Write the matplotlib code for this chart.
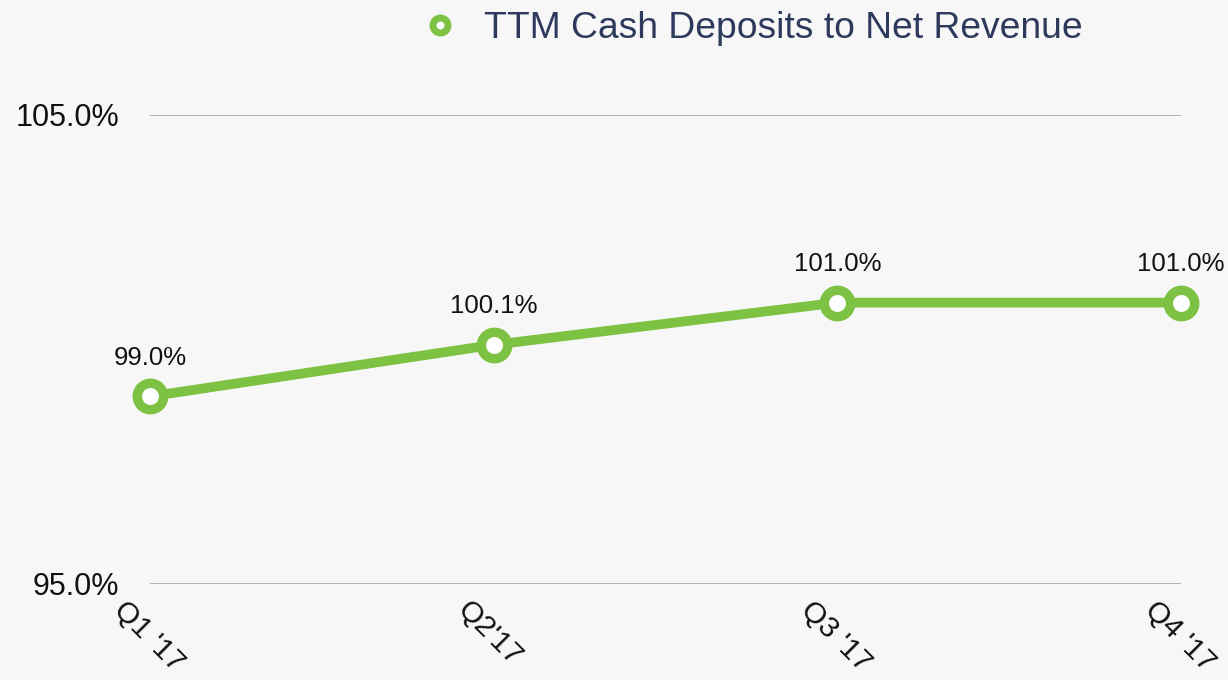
import matplotlib
matplotlib.use("Agg")
import matplotlib.pyplot as plt
import matplotlib.transforms as mtransforms
from matplotlib.lines import Line2D

quarters = ["Q1 '17", "Q2'17", "Q3 '17", "Q4 '17"]
ratio = [99.0, 100.1, 101.0, 101.0]
series_name = "TTM Cash Deposits to Net Revenue"
y_ticks = [95.0, 105.0]

GREEN = "#7dc242"
BG = "#f7f7f7"

plt.rcParams["font.family"] = ["Liberation Sans", "DejaVu Sans"]

fig = plt.figure(figsize=(12.28, 6.8), dpi=100, facecolor=BG)
ax = fig.add_axes([150 / 1228, 1 - 584 / 680, (1181 - 150) / 1228, (584 - 115) / 680])
ax.set_facecolor(BG)

x = list(range(len(quarters)))
ax.plot(x, ratio, color=GREEN, lw=7, marker="o", ms=19, mew=6.8,
        mfc="white", mec=GREEN, solid_capstyle="round", zorder=3, clip_on=False)

for xi, v in zip(x, ratio):
    ax.annotate(f"{v:.1f}%", (xi, v), xytext=(0, 28), textcoords="offset points",
                ha="center", va="center", fontsize=18.5, color="#111111")

ax.set_xlim(0, 3)
ax.set_ylim(95, 105)
ax.set_yticks(y_ticks)
ax.set_yticklabels([f"{t:.1f}%" for t in y_ticks], fontsize=22, color="#111111")
ax.yaxis.grid(True, color="#a8a8a0", lw=1.2)
ax.set_axisbelow(True)

# rotated quarter labels, placed by hand so they can sit left of the tick
ax.set_xticks(x)
ax.set_xticklabels([])
shift = mtransforms.ScaledTranslation(-32 / 100, -22 / 100, fig.dpi_scale_trans)
for xi, q in zip(x, quarters):
    ax.text(xi, 0, q, transform=ax.get_xaxis_transform() + shift, fontsize=21.5,
            color="#111111", rotation=-45, ha="left", va="center",
            rotation_mode="anchor", clip_on=False)

ax.tick_params(axis="both", length=0)
ax.tick_params(axis="y", pad=22)
for s in ax.spines.values():
    s.set_visible(False)

handle = Line2D([], [], color=GREEN, lw=0, marker="o", ms=10.8, mew=5,
                mfc="white", mec=GREEN)
fig.legend([handle], [series_name], loc="center", bbox_to_anchor=(754 / 1228, 1 - 29 / 680),
           frameon=False, fontsize=26.8, labelcolor="#2e3a5c", handlelength=0.8,
           handletextpad=0.8)

fig.savefig("out.png", dpi=100, facecolor=BG)
